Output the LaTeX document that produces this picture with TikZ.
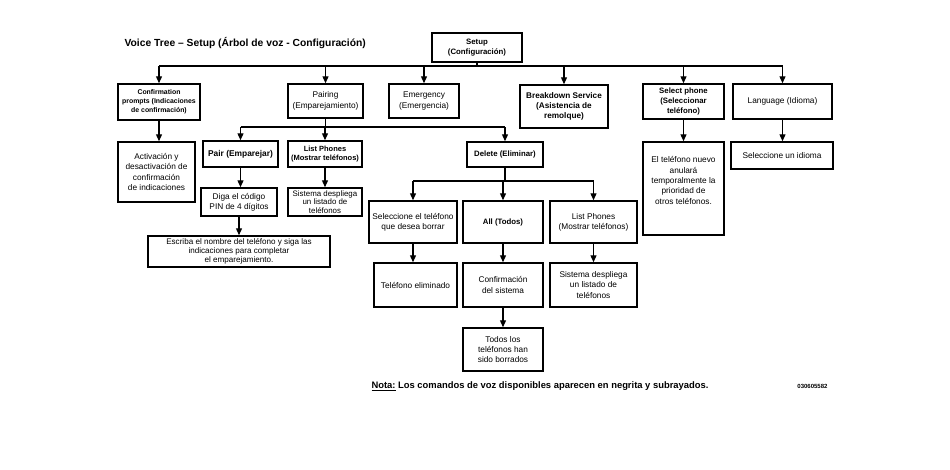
\documentclass[tikz,border=0pt]{standalone}
\usepackage{fontspec}
\setmainfont{Liberation Sans}
\usetikzlibrary{arrows.meta}
\tikzset{
  bx/.style={draw, line width=1.5pt, align=center, inner sep=1pt, font=\fontsize{8.3}{10.3}\selectfont},
  bxb/.style={bx, font=\fontsize{7.8}{10}\selectfont\bfseries},
  ln/.style={line width=1.3pt},
  arr/.style={line width=1.3pt, -{Triangle[length=7pt,width=6pt]}},
}
\begin{document}
\begin{tikzpicture}[x=1pt,y=-1pt]
\useasboundingbox[fill=white] (0,0) rectangle (950,469);

\node[anchor=west, font=\fontsize{10.3}{12}\selectfont\bfseries] (title) at (121,43) {Voice Tree -- Setup (Árbol de voz - Configuración)};

% Row 0
\node[bxb, minimum width=90, minimum height=29] (setup) at (477,47.5) {Setup\\(Configuración)};

% Row 1
\node[bxb, minimum width=82, minimum height=36, font=\fontsize{6.9}{8.8}\selectfont\bfseries] (conf) at (159,102) {Confirmation\\prompts (Indicaciones\\de confirmación)};
\node[bx, minimum width=75, minimum height=34] (pairing) at (325.5,101) {Pairing\\(Emparejamiento)};
\node[bx, minimum width=70, minimum height=34] (emerg) at (424,101) {Emergency\\(Emergencia)};
\node[bxb, minimum width=88, minimum height=43, font=\fontsize{8.2}{10}\selectfont\bfseries] (brk) at (564,106.5) {Breakdown Service\\(Asistencia de\\remolque)};
\node[bxb, minimum width=81, minimum height=35] (select) at (683.5,101.5) {Select phone\\(Seleccionar\\teléfono)};
\node[bx, minimum width=99, minimum height=35] (lang) at (782.5,101.5) {Language (Idioma)};

% Row 2
\node[bx, minimum width=77, minimum height=60] (activ) at (156.5,172) {Activación y\\desactivación de\\confirmación\\de indicaciones};
\node[bxb, minimum width=75, minimum height=26, font=\fontsize{8.4}{10}\selectfont\bfseries] (pair) at (240.5,154) {Pair (Emparejar)};
\node[bxb, minimum width=74, minimum height=26, font=\fontsize{7.5}{9.5}\selectfont\bfseries] (list1) at (325,154) {List Phones\\(Mostrar teléfonos)};
\node[bxb, minimum width=76, minimum height=25] (delete) at (505,154.5) {Delete (Eliminar)};
\node[bx, minimum width=81, minimum height=93] (eltel) at (683.5,188.5) {El teléfono nuevo\\anulará\\temporalmente la\\prioridad de\\otros teléfonos.\\[6pt]\mbox{}};
\node[bx, minimum width=102, minimum height=27] (idioma) at (782,155.5) {Seleccione un idioma};

% Row 3
\node[bx, minimum width=76, minimum height=28] (diga) at (239,202) {Diga el código\\PIN de 4 dígitos};
\node[bx, minimum width=74, minimum height=28, inner sep=0pt, font=\fontsize{7.9}{8.2}\selectfont] (sist1) at (325,202) {Sistema despliega\\un listado de\\teléfonos};
\node[bx, minimum width=88, minimum height=42] (selec) at (413,222) {Seleccione el teléfono\\que desea borrar};
\node[bxb, minimum width=80, minimum height=42] (all) at (503,222) {All (Todos)};
\node[bx, minimum width=87, minimum height=42] (list2) at (593.5,222) {List Phones\\(Mostrar teléfonos)};

% Row 4
\node[bx, minimum width=182, minimum height=31, inner sep=0pt, font=\fontsize{8.1}{9.3}\selectfont] (escriba) at (239,251.5) {Escriba el nombre del teléfono y siga las\\indicaciones para completar\\el emparejamiento.};
\node[bx, minimum width=83, minimum height=44] (telelim) at (415.5,285) {Teléfono eliminado};
\node[bx, minimum width=80, minimum height=44] (confsis) at (503,285) {Confirmación\\del sistema};
\node[bx, minimum width=87, minimum height=44] (sist2) at (593.5,285) {Sistema despliega\\un listado de\\teléfonos};

% Row 5
\node[bx, minimum width=80, minimum height=43] (todos) at (503,349.5) {Todos los\\teléfonos han\\sido borrados};

% Footer
\node[anchor=west, font=\fontsize{9.4}{11}\selectfont\bfseries] (nota) at (368,386) {\underline{Nota:} Los comandos de voz disponibles aparecen en negrita y subrayados.};
\node[anchor=east, font=\fontsize{6}{7}\selectfont\bfseries] (code) at (831,386.5) {030605582};

% Connectors: Setup bus
\coordinate (b0) at (477,66);
\draw[ln] (setup.south) -- (b0);
\draw[ln] (conf.north |- b0) -- (lang.north |- b0);
\foreach \n in {conf,pairing,emerg,brk,select,lang}
  \draw[arr] (\n.north |- b0) -- (\n.north);

% Confirmation
\draw[arr] (conf.south) -- (conf.south |- activ.north);

% Pairing bus
\coordinate (b1) at (325.5,127);
\draw[ln] (pairing.south) -- (b1);
\draw[ln] (pair.north |- b1) -- (delete.north |- b1);
\foreach \n in {pair,list1,delete}
  \draw[arr] (\n.north |- b1) -- (\n.north);

\draw[arr] (pair.south) -- (pair.south |- diga.north);
\draw[arr] (diga.south) -- (diga.south |- escriba.north);
\draw[arr] (list1.south) -- (list1.south |- sist1.north);

% Delete bus
\coordinate (b2) at (505,181);
\draw[ln] (delete.south) -- (b2);
\draw[ln] (selec.north |- b2) -- (list2.north |- b2);
\foreach \n in {selec,all,list2}
  \draw[arr] (\n.north |- b2) -- (\n.north);

\draw[arr] (selec.south) -- (selec.south |- telelim.north);
\draw[arr] (all.south) -- (confsis.north);
\draw[arr] (list2.south) -- (sist2.north);
\draw[arr] (confsis.south) -- (todos.north);

\draw[arr] (select.south) -- (select.south |- eltel.north);
\draw[arr] (lang.south) -- (lang.south |- idioma.north);
\end{tikzpicture}
\end{document}
